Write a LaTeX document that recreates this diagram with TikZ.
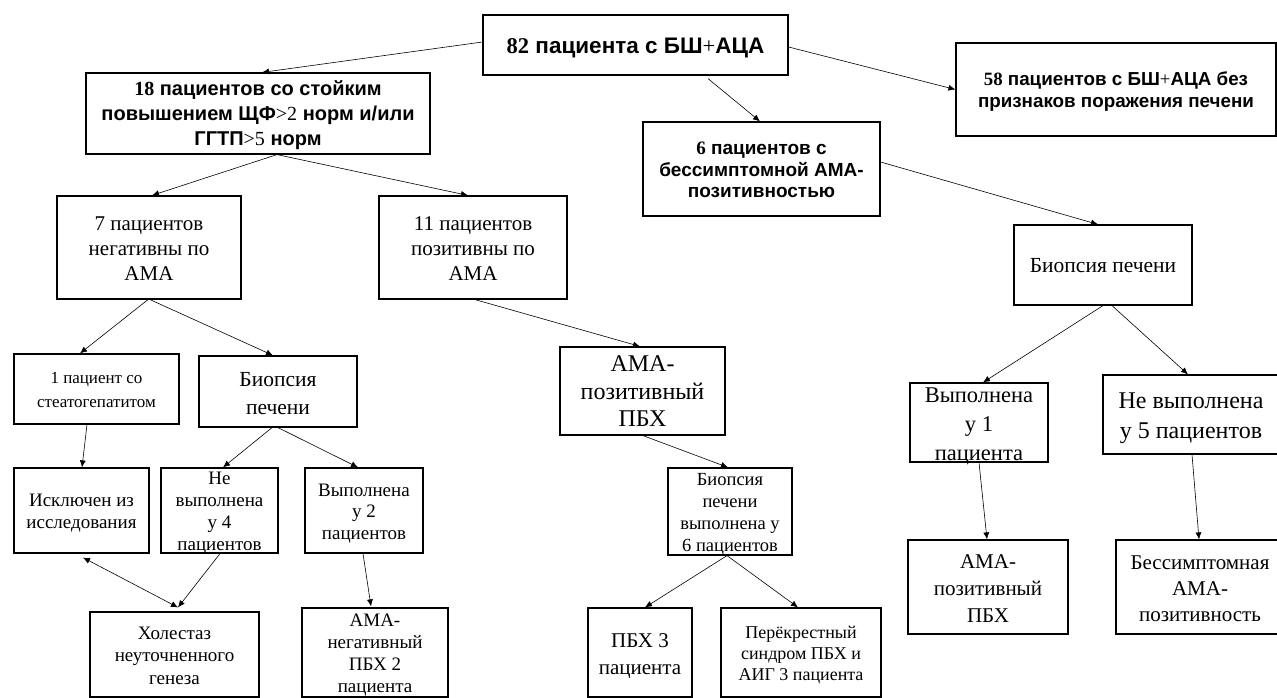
\documentclass[tikz,border=0pt]{standalone}
\usepackage{fontspec}
\setmainfont{Liberation Serif}
\newfontfamily\arl{Liberation Sans}
\newfontfamily\tnr{Liberation Serif}
\usetikzlibrary{arrows.meta,calc}
\newcommand\dg[1]{{\tnr\bfseries #1}}
\newcommand\pl[1]{{\tnr\mdseries #1}}
\newcommand\ml[1]{\raisebox{-0.38em}[0pt][0pt]{\begin{tabular}{@{}c@{}}#1\end{tabular}}}
\newcommand\fs[2]{\fontsize{#1}{#2}\selectfont}
\tikzset{
  box/.style={draw, line width=1.2pt, rectangle, inner sep=0pt},
  arr/.style={line width=0.6pt, -{Latex[length=7pt,width=6pt]}},
  darr/.style={line width=0.6pt, {Latex[length=7pt,width=6pt]}-{Latex[length=7pt,width=6pt]}}
}
\begin{document}
\begin{tikzpicture}[x=1pt,y=-1pt]
\useasboundingbox (0,0) rectangle (1277,698);
\fill[white] (0,0) rectangle (1277,698);
\clip (0,0) rectangle (1277,698);
% bold sans boxes
\node[box, minimum width=305pt, minimum height=60pt, font=\arl\bfseries\fs{22.5}{26}] (A) at (635.5,45) {\ml{\dg{82} пациента с БШ\pl{+}АЦА}};
\node[box, minimum width=344pt, minimum height=81pt, font=\arl\bfseries\fs{20}{25}] (B) at (258,113.5) {\ml{\dg{18} пациентов со стойким\\повышением ЩФ\pl{>2} норм и/или\\ГГТП\pl{>5} норм}};
\node[box, minimum width=320pt, minimum height=93pt, font=\arl\bfseries\fs{18.8}{22}] (C) at (1116,89.5) {\ml{\dg{58} пациентов с БШ\pl{+}АЦА без\\признаков поражения печени}};
\node[box, minimum width=237pt, minimum height=94pt, font=\arl\bfseries\fs{19}{21.5}] (D) at (761.5,169) {\ml{\dg{6} пациентов с\\бессимптомной АМА-\\позитивностью}};
% serif boxes
\node[box, minimum width=184pt, minimum height=103pt, font=\fs{21}{25}] (E) at (149,247.5) {\ml{7 пациентов\\негативны по\\АМА}};
\node[box, minimum width=188pt, minimum height=103pt, font=\fs{21}{25}] (F) at (473,247.5) {\ml{11 пациентов\\позитивны по\\АМА}};
\node[box, minimum width=178pt, minimum height=80pt, font=\fs{21.5}{24}] (G) at (1103,265) {\ml{Биопсия печени}};
\node[box, minimum width=165pt, minimum height=70pt, font=\fs{17}{24}] (H) at (96.5,389) {\ml{1 пациент со\\стеатогепатитом}};
\node[box, minimum width=158pt, minimum height=71pt, font=\fs{21.5}{28}] (I) at (278,391.5) {\ml{Биопсия\\печени}};
\node[box, minimum width=165pt, minimum height=88pt, font=\fs{24}{27.5}] (J) at (642.5,391) {\ml{АМА-\\позитивный\\ПБХ}};
\node[box, minimum width=138pt, minimum height=79pt, font=\fs{22.5}{29}] (K) at (979,422.5) {\ml{Выполнена\\у 1\\пациента}};
\node[box, minimum width=176pt, minimum height=79pt, font=\fs{24}{30}] (L) at (1191,414.5) {\ml{Не выполнена\\у 5 пациентов}};
\node[box, minimum width=135pt, minimum height=85pt, font=\fs{19}{21.5}] (M) at (81.5,510.5) {\ml{Исключен из\\исследования}};
\node[box, minimum width=117pt, minimum height=85pt, font=\fs{19}{22}] (N) at (219.5,510.5) {\ml{Не\\выполнена\\у 4\\пациентов}};
\node[box, minimum width=118pt, minimum height=85pt, font=\fs{19}{21.5}] (O) at (364,510.5) {\ml{Выполнена\\у 2\\пациентов}};
\node[box, minimum width=124pt, minimum height=87pt, font=\fs{18.5}{22}] (P) at (730,511.5) {\ml{Биопсия\\печени\\выполнена у\\6 пациентов}};
\node[box, minimum width=169pt, minimum height=85pt, font=\fs{19}{22.5}] (Hol) at (174.5,654.5) {\ml{Холестаз\\неуточненного\\генеза}};
\node[box, minimum width=146pt, minimum height=89pt, font=\fs{19}{22}] (Q2) at (375,652.5) {\ml{АМА-\\негативный\\ПБХ 2\\пациента}};
\node[box, minimum width=104pt, minimum height=89pt, font=\fs{21}{27}] (Q) at (640,652.5) {\ml{ПБХ 3\\пациента}};
\node[box, minimum width=160pt, minimum height=89pt, font=\fs{18}{21}] (R) at (801,652.5) {\ml{Перёкрестный\\синдром ПБХ и\\АИГ 3 пациента}};
\node[box, minimum width=160pt, minimum height=94pt, font=\fs{21}{27}] (S) at (988,587) {\ml{АМА-\\позитивный\\ПБХ}};
\node[box, minimum width=168pt, minimum height=94pt, font=\fs{21}{26}] (T) at (1200,587) {\ml{Бессимптомная\\АМА-\\позитивность}};
% connectors
\draw[arr] ($(A.west)+(0,-3)$) -- ($(B.north)+(4,0)$);
\draw[arr] ($(A.east)+(0,2)$) -- (C.west);
\draw[arr] ($(A.south)+(72.5,3)$) -- ($(D.north)+(-1.5,0)$);
\draw[arr] ($(B.south)+(19,0)$) -- ($(E.north)+(3,0)$);
\draw[arr] ($(B.south)+(19,0)$) -- ($(F.north)+(-5,0)$);
\draw[arr] ($(D.east)+(0,-7)$) -- ($(G.north)+(-5,0)$);
\draw[arr] ($(E.south)+(-1,0)$) -- ($(H.north)+(-16.5,0)$);
\draw[arr] ($(E.south)+(1,0)$) -- ($(I.north)+(-5,0)$);
\draw[arr] ($(F.south)+(2,0)$) -- ($(J.north)+(-2.5,0)$);
\draw[arr] (G.south) -- ($(K.north)+(4,0)$);
\draw[arr] ($(G.south)+(9,0)$) -- ($(L.north)+(-3,0)$);
\draw[arr] ($(H.south)+(-9.5,0)$) -- ($(M.north)+(0.5,0)$);
\draw[arr] ($(I.south)+(-6,0)$) -- ($(N.north)+(3.5,0)$);
\draw[arr] (I.south) -- ($(O.north)+(-6,0)$);
\draw[arr] ($(J.south)+(0.5,0)$) -- ($(P.north)+(-2,0)$);
\draw[arr] (K.south) -- ($(S.north)+(-1,0)$);
\draw[arr] ($(L.south)+(1,0)$) -- ($(T.north)+(-1,0)$);
\draw[darr] ($(M.south)+(1.5,4)$) -- ($(Hol.north)+(3.5,-4)$);
\draw[arr] ($(N.south)+(0.5,0)$) -- ($(Hol.north)+(3.5,-4)$);
\draw[arr] ($(O.south)+(-1,0)$) -- ($(Q2.north)+(-4,-1)$);
\draw[arr] ($(P.south)+(-3,0)$) -- ($(Q.north)+(5,0)$);
\draw[arr] ($(P.south)+(-3,0)$) -- ($(R.north)+(-3,0)$);
\end{tikzpicture}
\end{document}
